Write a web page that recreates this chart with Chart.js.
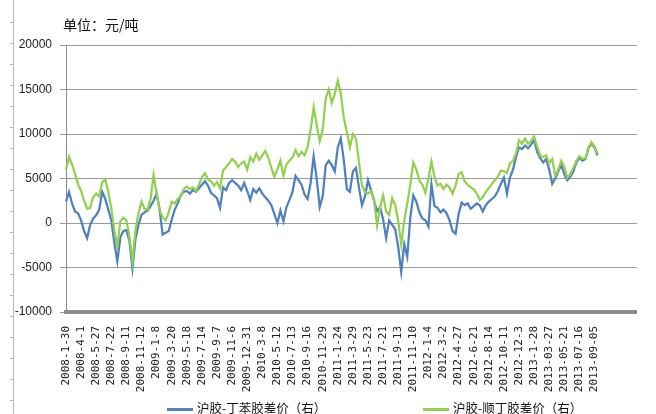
<!DOCTYPE html>
<html>
<head>
<meta charset="utf-8">
<script src="https://cdn.jsdelivr.net/npm/chart.js@4/dist/chart.umd.min.js"></script>
<style>
  body { margin: 0; background: #fff; }
  #wrap { position: relative; width: 656px; height: 414px; }
  .leg { position: absolute; top: 398px; font: 12.5px "Noto Sans CJK SC", sans-serif; color: #111; white-space: nowrap; }
  .leg span { display: inline-block; width: 26px; height: 3px; vertical-align: middle; margin-right: 4px; }
</style>
</head>
<body>
<div id="wrap">
  <canvas id="myChart" width="656" height="414"></canvas>
  <div class="leg" style="left:167px"><span style="background:#4f81bd"></span>沪胶-丁苯胶差价（右）</div>
  <div class="leg" style="left:423px"><span style="background:#92d050"></span>沪胶-顺丁胶差价（右）</div>
</div>
<script>
// tick labels on the date axis, one every 5 points
var tickLabels = ['2008-1-30', '2008-4-1', '2008-5-27', '2008-7-22', '2008-9-11', '2008-11-12',
  '2009-1-8', '2009-3-20', '2009-5-18', '2009-7-14', '2009-9-7', '2009-11-6', '2009-12-31',
  '2010-3-8', '2010-5-12', '2010-7-13', '2010-9-16', '2010-11-29', '2011-1-24', '2011-3-29',
  '2011-5-23', '2011-7-21', '2011-9-13', '2011-11-10', '2012-1-4', '2012-3-2', '2012-4-27',
  '2012-6-21', '2012-8-14', '2012-10-11', '2012-12-3', '2013-1-28', '2013-03-27', '2013-05-21',
  '2013-07-16', '2013-09-05'];

// 沪胶-丁苯胶差价
var sbrSpread = [
  2400, 3500, 2200, 1300, 1100, 300, -900, -1700, -200, 500,
  900, 1500, 3500, 2700, 1500, 300, -2200, -4300, -1600, -900,
  -800, -2000, -5100, -1800, -200, 900, 1200, 1400, 1900, 2500,
  3300, 1500, -1300, -1100, -900, 400, 1500, 2200, 3100, 3500,
  3600, 3300, 3700, 3500, 3900, 4300, 4700, 4200, 3400, 3100,
  2800, 1700, 4000, 3700, 4500, 4800, 4500, 4200, 3700, 4500,
  3600, 2600, 3800, 3400, 3900, 3300, 2900, 2500, 2000, 1000,
  0, 1400, 200, 1800, 2600, 3500, 5300, 4800, 4300, 3200,
  2700, 4500, 7500, 5000, 1800, 3000, 6500, 7000, 6500, 5800,
  8500, 9500, 7000, 3800, 3500, 5800, 6200, 4000, 2000, 3000,
  4800, 3700, 2500, 1300, 1800, 400, -1700, 300, -200, -700,
  -2700, -5500, -2400, -3800, 600, 3100, 2400, 1200, 500, 300,
  -400, 4400, 1900, 1700, 1200, 1500, 1100, 300, -900, -1200,
  1000, 2300, 2000, 2200, 1600, 1900, 2200, 2000, 1300, 2000,
  2400, 2700, 3000, 3600, 4400, 5100, 3300, 5100, 6000, 7400,
  8500, 8300, 8700, 8400, 8800, 9300, 8000, 7300, 6800, 7200,
  6000, 4400, 5000, 5800, 6500, 5500, 4800, 5200, 5800, 6800,
  7300, 7000, 7200, 8400, 8900, 8500, 7600];

// 沪胶-顺丁胶差价
var brSpread = [
  6000, 7450, 6600, 5500, 4300, 3600, 2500, 1600, 1700, 2900,
  3300, 3000, 4600, 4900, 3500, 1700, -800, -2600, 200, 600,
  300, -1500, -4300, -800, 1100, 2400, 1600, 1500, 2700, 5400,
  3200, 1500, 600, 300, 1200, 2400, 2200, 2700, 3000, 3800,
  4100, 3800, 4000, 3600, 4300, 5200, 5600, 4900, 4700, 4200,
  4600, 3900, 5900, 6300, 6700, 7200, 6900, 6300, 6700, 6900,
  6000, 7400, 6900, 7800, 7100, 7600, 8100, 7300, 6200, 5200,
  6000, 7000, 5300, 6600, 7000, 7400, 8200, 7500, 8000, 7600,
  8500, 10500, 13000, 11000, 9200, 10500, 14000, 15000, 13500, 14500,
  16000, 14500, 11800, 10200, 8500, 10000, 9500, 6800, 4200, 3500,
  3300, 3600, 2600, -300, 1800, 3100, 1300, 900, 2800, 2000,
  200, -2400, 300, 2200, 4300, 6800, 6000, 4800, 4300, 3400,
  5000, 6900, 5200, 4200, 4400, 3800, 4300, 4000, 3300, 4200,
  5500, 5700, 4700, 4300, 4000, 3800, 3300, 2600, 2900, 3500,
  3900, 4400, 4800, 5200, 5900, 5800, 5600, 6700, 7000, 7800,
  9300, 8900, 9500, 8900, 9200, 9700, 8600, 7600, 7400, 7600,
  6700, 7200, 5300, 6000, 7000, 6300, 5100, 5500, 6200, 7000,
  7500, 7200, 7300, 8500, 9100, 8600, 7800];

var yTicks = [-10000, -5000, 0, 5000, 10000, 15000, 20000];

// category axis runs a bit past the last point, like the original
var labels = [];
for (var i = 0; i < 190; i++) {
  labels.push(i % 5 == 0 && tickLabels[i / 5] ? tickLabels[i / 5] : '');
}

var extras = {
  id: 'extras',
  afterDraw: function(chart) {
    var c = chart.ctx;
    c.save();
    c.fillStyle = '#111';
    c.font = '14px "Noto Sans CJK SC"';
    c.textBaseline = 'middle';
    c.fillText('单位：元/吨', 63, 25);
    // left frame edge
    c.strokeStyle = '#b8b8b8';
    c.lineWidth = 1;
    c.beginPath();
    c.moveTo(13.5, 0);
    c.lineTo(13.5, 414);
    for (var y = 22; y < 414; y += 21) {
      c.moveTo(10, y + 0.5);
      c.lineTo(13.5, y + 0.5);
    }
    c.stroke();
    c.restore();
  }
};

var ctx = document.getElementById('myChart');
new Chart(ctx, {
  type: 'line',
  data: {
    labels: labels,
    datasets: [{
      label: '沪胶-丁苯胶差价（右）',
      data: sbrSpread,
      borderColor: '#4f81bd',
      borderWidth: 2.25,
      pointRadius: 0,
      order: 1
    }, {
      label: '沪胶-顺丁胶差价（右）',
      data: brSpread,
      borderColor: '#92d050',
      borderWidth: 2.25,
      pointRadius: 0,
      order: 0
    }]
  },
  options: {
    responsive: false,
    animation: false,
    layout: { padding: { top: 45, right: 6, left: 0, bottom: 0 } },
    plugins: { legend: { display: false }, tooltip: { enabled: false } },
    scales: {
      x: {
        grid: { display: false },
        border: { color: '#8c8c8c', width: 4 },
        ticks: {
          autoSkip: false, minRotation: 90, maxRotation: 90, padding: 6,
          color: '#222', font: { family: 'DejaVu Sans Mono', size: 11 }
        },
        afterFit: function(s) { s.height = 102; }
      },
      y: {
        min: -10000, max: 20000,
        afterBuildTicks: function(s) { s.ticks = yTicks.map(function(v) { return { value: v }; }); },
        grid: { color: '#9a9a9a', tickLength: 6 },
        border: { color: '#8c8c8c' },
        ticks: {
          padding: 8, color: '#222', font: { family: 'Liberation Sans', size: 12 },
          callback: function(v) { return String(v); }
        },
        afterFit: function(s) { s.width = 66; }
      }
    }
  },
  plugins: [extras]
});
</script>
</body>
</html>
